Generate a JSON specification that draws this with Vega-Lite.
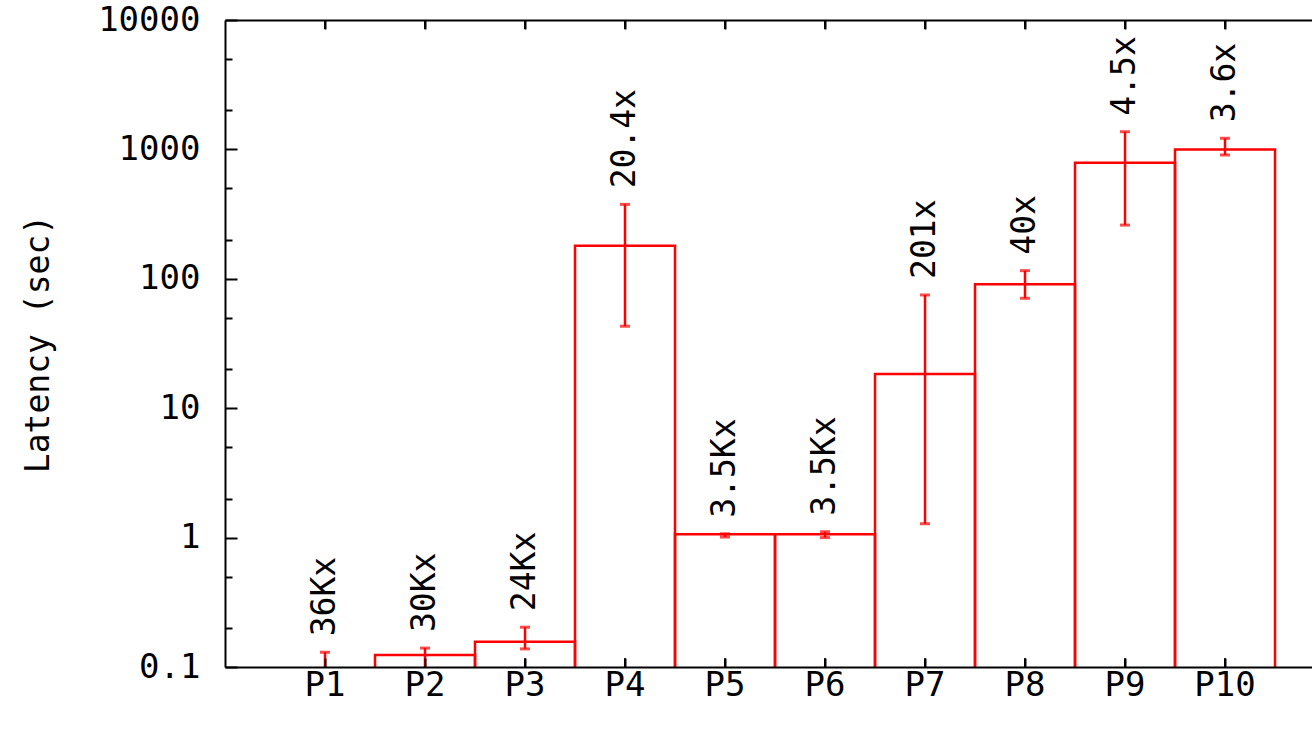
{
  "$schema": "https://vega.github.io/schema/vega-lite/v6.json",
  "width": 1100,
  "height": 647,
  "autosize": {"type": "none"},
  "padding": {"left": 225, "top": 20, "right": 0, "bottom": 65},
  "background": "white",
  "config": {
    "view": {"stroke": null},
    "font": "DejaVu Sans Mono",
    "axis": {
      "grid": false,
      "domainColor": "black",
      "domainWidth": 2,
      "tickColor": "black",
      "tickWidth": 2,
      "labelColor": "black",
      "labelFont": "DejaVu Sans Mono",
      "labelFontSize": 34,
      "titleFont": "DejaVu Sans Mono",
      "titleFontSize": 33,
      "titleFontWeight": "normal",
      "titleColor": "black"
    }
  },
  "data": {
    "values": [
      {"p": "P1", "v": 0.09, "lo": 0.08, "hi": 0.13, "lab": "36Kx"},
      {"p": "P2", "v": 0.124, "lo": 0.09, "hi": 0.14, "lab": "30Kx"},
      {"p": "P3", "v": 0.157, "lo": 0.138, "hi": 0.203, "lab": "24Kx"},
      {"p": "P4", "v": 180, "lo": 43, "hi": 376, "lab": "20.4x"},
      {"p": "P5", "v": 1.06, "lo": 1.01, "hi": 1.07, "lab": "3.5Kx"},
      {"p": "P6", "v": 1.06, "lo": 1.0, "hi": 1.11, "lab": "3.5Kx"},
      {"p": "P7", "v": 18.4, "lo": 1.28, "hi": 75, "lab": "201x"},
      {"p": "P8", "v": 90.6, "lo": 70.7, "hi": 115.6, "lab": "40x"},
      {"p": "P9", "v": 789, "lo": 260, "hi": 1370, "lab": "4.5x"},
      {"p": "P10", "v": 1000, "lo": 905, "hi": 1219, "lab": "3.6x"}
    ]
  },
  "layer": [
    {
      "mark": {"type": "bar", "fill": "white", "fillOpacity": 0, "stroke": "#ff0000", "strokeWidth": 2.5, "clip": true},
      "encoding": {
        "x": {
          "field": "p", "type": "nominal", "sort": null,
          "scale": {"type": "band", "paddingInner": 0, "paddingOuter": 0.5},
          "axis": {"orient": "bottom", "title": null, "labelAngle": 0, "ticks": true, "tickSize": -9, "tickBand": "center", "labelPadding": 10, "zindex": 1}
        },
        "y": {
          "field": "v", "type": "quantitative",
          "scale": {"type": "log", "domain": [0.1, 10000]},
          "axis": {"orient": "left", "title": "Latency (sec)", "values": [0.1, 1, 10, 100, 1000, 10000], "format": "~g", "tickSize": -12, "labelPadding": 37, "titlePadding": 42, "zindex": 1}
        },
        "y2": {"datum": 0.09}
      }
    },
    {
      "mark": {"type": "rule", "color": "black", "strokeWidth": 2, "clip": true},
      "encoding": {
        "x": {"field": "p", "type": "nominal", "sort": null, "axis": null},
        "y": {"datum": 0.1, "axis": null},
        "y2": {"datum": 0.117}
      }
    },
    {
      "mark": {"type": "rule", "color": "black", "strokeWidth": 2, "clip": true},
      "encoding": {
        "x": {"field": "p", "type": "nominal", "sort": null, "axis": null},
        "y": {"datum": 10000, "axis": null},
        "y2": {"datum": 8520}
      }
    },
    {
      "mark": {"type": "rule", "color": "#ff0000", "strokeWidth": 2.5, "clip": true},
      "encoding": {
        "x": {
          "field": "p", "type": "nominal", "sort": null,
          "axis": {"orient": "top", "title": null, "labels": false, "ticks": true, "tickSize": -9, "tickBand": "center", "zindex": 1}
        },
        "y": {
          "field": "lo", "type": "quantitative",
          "axis": {"orient": "left", "title": null, "labels": false, "domain": false, "tickSize": -7, "zindex": 1,
                   "values": [0.2, 0.5, 2, 5, 20, 50, 200, 500, 2000, 5000]}
        },
        "y2": {"field": "hi"}
      }
    },
    {
      "mark": {"type": "tick", "color": "#ff0000", "size": 10, "thickness": 3, "clip": true},
      "encoding": {
        "x": {"field": "p", "type": "nominal", "sort": null, "axis": null},
        "y": {"field": "lo", "type": "quantitative", "axis": null}
      }
    },
    {
      "mark": {"type": "tick", "color": "#ff0000", "size": 10, "thickness": 3, "clip": true},
      "encoding": {
        "x": {"field": "p", "type": "nominal", "sort": null, "axis": null},
        "y": {"field": "hi", "type": "quantitative", "axis": null}
      }
    },
    {
      "mark": {"type": "text", "angle": 270, "align": "left", "baseline": "middle", "dx": 16, "fontSize": 33, "font": "DejaVu Sans Mono", "color": "black"},
      "encoding": {
        "x": {"field": "p", "type": "nominal", "sort": null, "axis": null},
        "y": {"field": "hi", "type": "quantitative", "axis": null},
        "text": {"field": "lab"}
      }
    }
  ],
  "resolve": {"axis": {"x": "independent", "y": "independent"}}
}
